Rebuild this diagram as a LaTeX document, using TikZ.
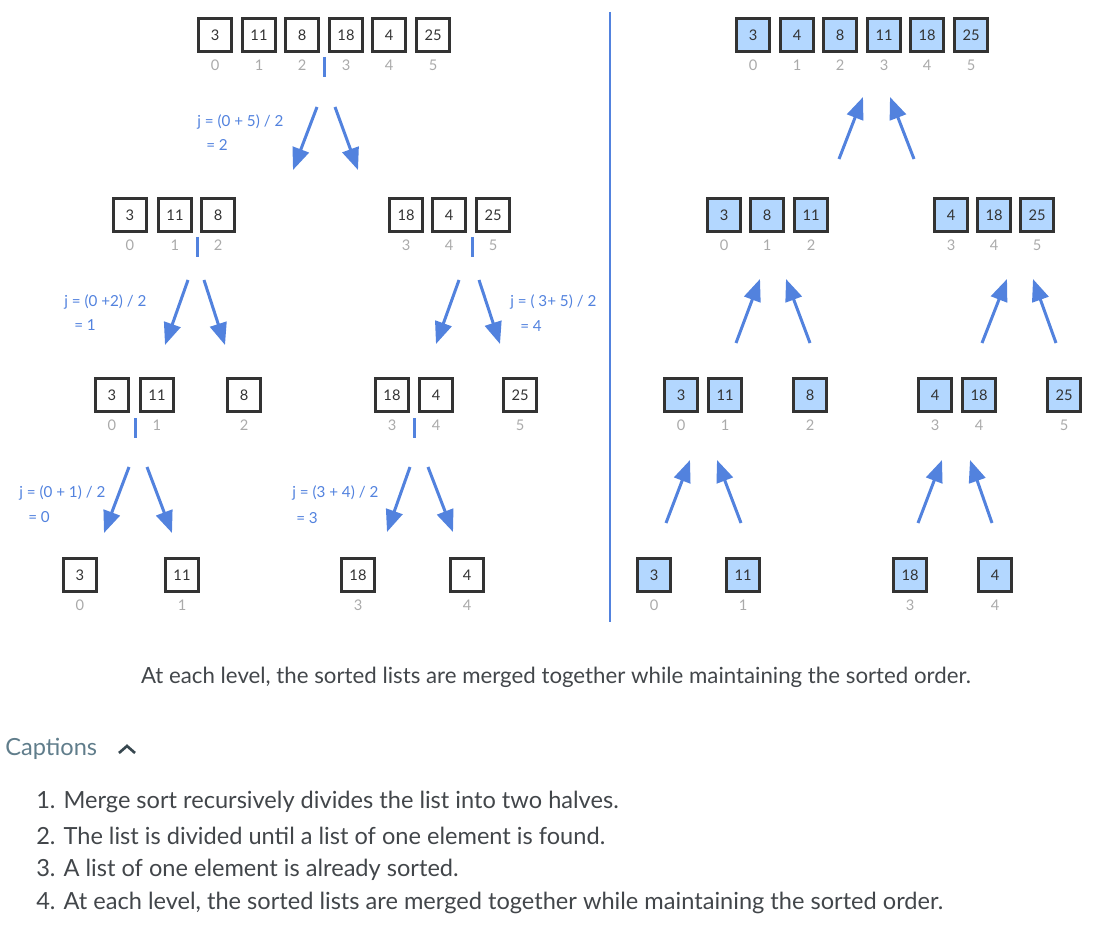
\documentclass[tikz,border=0pt]{standalone}
\usepackage{fontspec}
\setmainfont{Lato}
\usetikzlibrary{arrows.meta}

\definecolor{splitblue}{RGB}{82,130,222}
\definecolor{sortfill}{RGB}{179,215,255}
\definecolor{boxline}{RGB}{51,51,51}
\definecolor{idxgray}{RGB}{170,170,170}
\definecolor{captext}{RGB}{66,70,74}
\definecolor{caphead}{RGB}{96,125,139}
\definecolor{caretdark}{RGB}{55,71,79}

\tikzset{
  cell/.style={draw=boxline, line width=2.25pt, minimum size=24.75pt, inner sep=0pt,
    text=boxline, font=\fontsize{11}{13}\selectfont},
  done/.style={cell, fill=sortfill},
  idx/.style={text=idxgray, inner sep=0pt, font=\fontsize{11}{13}\selectfont},
  jlabel/.style={text=splitblue, anchor=west, inner sep=0pt, font=\fontsize{11.4}{13}\selectfont},
  arr/.style={draw=splitblue, line width=2.25pt, -{Triangle[length=16.5pt,width=12.75pt]}},
  bar/.style={draw=splitblue, line width=2.25pt},
  captxt/.style={text=captext, inner sep=0pt, font=\fontsize{16.7}{20}\selectfont},
  listtxt/.style={text=captext, inner sep=0pt, anchor=west, font=\fontsize{17.7}{21}\selectfont},
}

\begin{document}
\begin{tikzpicture}[x=0.75pt, y=-0.75pt]

    \useasboundingbox (0,0) rectangle (1105,937);

    % Left half: splitting the list
    \foreach \x/\v/\i in {215/3/0, 259/11/1, 302/8/2, 346/18/3, 389/4/4, 433/25/5} {
        \node[cell] (a\i) at (\x,35) {\v};
        \node[idx] (ai\i) at (\x,65) {\i};
    }
    \foreach \x/\v/\i in {130/3/0, 175/11/1, 218/8/2, 406/18/3, 449/4/4, 493/25/5} {
        \node[cell] (b\i) at (\x,215) {\v};
        \node[idx] (bi\i) at (\x,245) {\i};
    }
    \foreach \x/\v/\i in {112/3/0, 157/11/1, 244/8/2, 392/18/3, 436/4/4, 520/25/5} {
        \node[cell] (c\i) at (\x,395) {\v};
        \node[idx] (ci\i) at (\x,425) {\i};
    }
    \foreach \x/\v/\i in {80/3/0, 182/11/1, 358/18/3, 467/4/4} {
        \node[cell] (d\i) at (\x,575) {\v};
        \node[idx] (di\i) at (\x,605) {\i};
    }

    % Split marks
    \foreach \x/\y in {324/57, 197/237, 472/237, 135/418, 414/418}
        \draw[bar] (\x,\y) -- (\x,\y+20);

    % Split arrows
    \foreach \sx/\sy/\ex/\ey [count=\k] in {317/107/293/170, 335/107/358/170,
        188/280/165/345, 204/280/225/345, 459/280/436/344, 479/280/500/344,
        129/467/104/533, 147/467/172/533, 410/467/387/532, 428/467/453/532} {
        \coordinate (ds\k) at (\sx,\sy);
        \coordinate (de\k) at (\ex,\ey);
        \draw[arr] (ds\k) -- (de\k);
    }

    % Middle index labels
    \node[jlabel] (j1) at (197,122) {j = (0 + 5) / 2};
    \node[jlabel] (j1b) at (206,145) {= 2};
    \node[jlabel] (j2) at (64,302) {j = (0 +2) / 2};
    \node[jlabel] (j2b) at (74,325) {= 1};
    \node[jlabel] (j3) at (510,302) {j = ( 3+ 5) / 2};
    \node[jlabel] (j3b) at (520,326) {= 4};
    \node[jlabel] (j4) at (19,493) {j = (0 + 1) / 2};
    \node[jlabel] (j4b) at (28,517) {= 0};
    \node[jlabel] (j5) at (292,493) {j = (3 + 4) / 2};
    \node[jlabel] (j5b) at (296,518) {= 3};

    % Separator
    \draw[splitblue, line width=1.1pt] (610,12) -- (610,622);

    % Right half: merging the sorted lists
    \foreach \x/\v/\i in {753/3/0, 797/4/1, 840/8/2, 884/11/3, 927/18/4, 971/25/5} {
        \node[done] (ra\i) at (\x,35) {\v};
        \node[idx] (rai\i) at (\x,65) {\i};
    }
    \foreach \x/\v/\i in {724/3/0, 767/8/1, 811/11/2, 951/4/3, 994/18/4, 1037/25/5} {
        \node[done] (rb\i) at (\x,215) {\v};
        \node[idx] (rbi\i) at (\x,245) {\i};
    }
    \foreach \x/\v/\i in {681/3/0, 725/11/1, 810/8/2, 935/4/3, 979/18/4, 1064/25/5} {
        \node[done] (rc\i) at (\x,395) {\v};
        \node[idx] (rci\i) at (\x,425) {\i};
    }
    \foreach \x/\v/\i in {654/3/0, 743/11/1, 910/18/3, 995/4/4} {
        \node[done] (rd\i) at (\x,575) {\v};
        \node[idx] (rdi\i) at (\x,605) {\i};
    }

    % Merge arrows
    \foreach \sx/\sy/\ex/\ey [count=\k] in {839/159/863/97, 914/159/890/97,
        736/343/760/279, 810/343/786/279, 982/343/1007/279, 1056/343/1033/279,
        666/523/690/460, 741/523/717/460, 918/523/942/460, 992/523/970/460} {
        \coordinate (ms\k) at (\sx,\sy);
        \coordinate (me\k) at (\ex,\ey);
        \draw[arr] (ms\k) -- (me\k);
    }

    % Caption under the figure
    \node[captxt] (cap) at (556,677) {At each level, the sorted lists are merged together while maintaining the sorted order.};

    \node[listtxt, text=caphead] (caphd) at (5,749) {Captions};
    \draw[caretdark, line width=2pt] (119,753) -- (127,746) -- (135,753);

    \foreach \t [count=\k] in {{Merge sort recursively divides the list into two halves.},
        {The list is divided until a list of one element is found.},
        {A list of one element is already sorted.},
        {At each level, the sorted lists are merged together while maintaining the sorted order.}} {
        \pgfmathsetmacro{\ly}{802+33.7*(\k-1)}
        \node[listtxt] (item\k) at (36,\ly) {\k. \t};
    }

\end{tikzpicture}
\end{document}
